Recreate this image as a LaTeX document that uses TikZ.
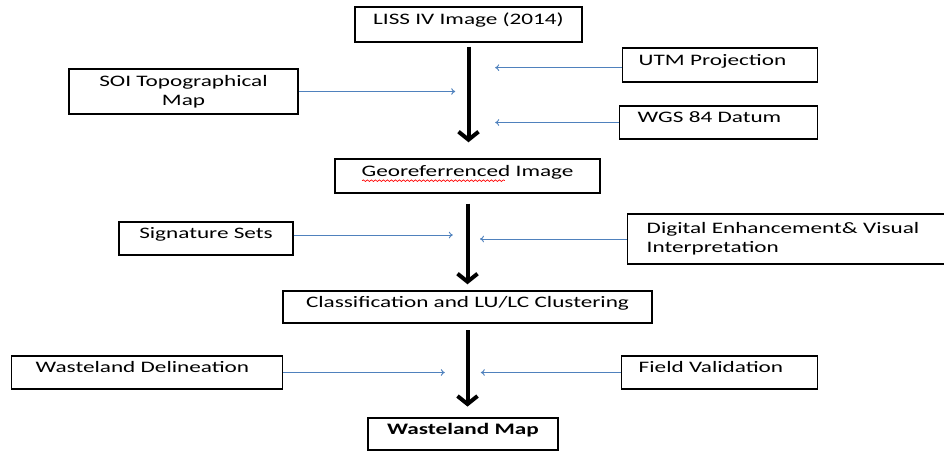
\documentclass[tikz,border=0pt]{standalone}
\usepackage{fontspec}
\setmainfont{Carlito}[FakeStretch=1.45]
\usetikzlibrary{arrows.meta,decorations.pathmorphing}
\definecolor{sideblue}{HTML}{4F81BD}
\tikzset{
  box/.style={draw,line width=1.1pt,inner xsep=0pt,inner ysep=0pt,
    text height=8.5pt,text depth=8pt,align=center,
    font=\fontsize{12}{14}\selectfont},
  lbox/.style={box,align=left,anchor=west},
  mainarrow/.style={line width=3pt,-{Straight Barb[length=6pt,width=15pt]}},
  sidearrow/.style={sideblue,line width=0.7pt,-{To[length=3pt,width=5pt]}}
}
\begin{document}
\begin{tikzpicture}[x=0.75pt,y=-0.75pt]
\useasboundingbox (0,0) rectangle (944,452);
\clip (0,0) rectangle (944,452);

\node[box,minimum width=170.25pt,minimum height=26.25pt] (liss) at (468.5,24.5) {LISS IV Image (2014)};
\node[lbox,inner xsep=12pt,text width=122.25pt,minimum height=25.5pt] (utm) at (622,65) {UTM Projection};
\node[box,minimum width=171.75pt,minimum height=33.75pt,text height={},text depth={}] (soi) at (183.5,91.5) {SOI Topographical\\Map};
\node[lbox,inner xsep=13.5pt,text width=121.5pt,minimum height=24.75pt] (wgs) at (619,122.5) {WGS 84 Datum};

\node[box,minimum width=198.75pt,minimum height=25.5pt] (geo) at (467.5,176) {Georeferrenced Image};
\draw[red,line width=0.5pt,decorate,decoration={snake,segment length=3pt,amplitude=0.6pt}]
  ([xshift=-79pt,yshift=-3.5pt]geo.center) -- ([xshift=28pt,yshift=-3.5pt]geo.center);

\node[box,minimum width=130.5pt,minimum height=24.75pt] (sig) at (206,238.5) {Signature Sets};
\node[lbox,inner xsep=14.25pt,text width=230pt,minimum height=37.5pt,text height={},text depth={},yshift=0pt] (dig) at (627,239) {Digital Enhancement\& Visual\\Interpretation};

\node[box,minimum width=276.75pt,minimum height=24pt] (cls) at (467.5,307) {Classification and LU/LC Clustering};

\node[lbox,inner xsep=18pt,text width=167.25pt,minimum height=24.75pt] (del) at (11,372.5) {Wasteland Delineation};
\node[lbox,inner xsep=12.75pt,text width=121.5pt,minimum height=24.75pt] (fld) at (621,372.5) {Field Validation};

\node[box,minimum width=142.5pt,minimum height=24pt,font=\fontsize{12}{14}\selectfont\bfseries] (map) at (463,434) {Wasteland Map};

\draw[mainarrow] ([yshift=-3pt]liss.south) -- ([yshift=12pt]liss.south |- geo.north);
\draw[mainarrow] ([yshift=-7.5pt]geo.south) -- ([yshift=4.5pt]geo.south |- cls.north);
\draw[mainarrow] ([yshift=-5pt]cls.south) -- ([yshift=8pt]cls.south |- map.north);

\draw[sidearrow] (soi.east) -- ([xshift=-10pt]soi.east -| liss.south);
\draw[sidearrow] ([yshift=-2pt]utm.west) -- ([xshift=20pt,yshift=-2pt]utm.west -| liss.south);
\draw[sidearrow] (wgs.west) -- ([xshift=20pt]wgs.west -| liss.south);
\draw[sidearrow] ([yshift=2.6pt]sig.east) -- ([xshift=-11pt,yshift=2.6pt]sig.east -| geo.south);
\draw[sidearrow] (dig.west) -- ([xshift=9.4pt]dig.west -| geo.south);
\draw[sidearrow] (del.east) -- ([xshift=-17pt]del.east -| cls.south);
\draw[sidearrow] (fld.west) -- ([xshift=10pt]fld.west -| cls.south);
\end{tikzpicture}
\end{document}
